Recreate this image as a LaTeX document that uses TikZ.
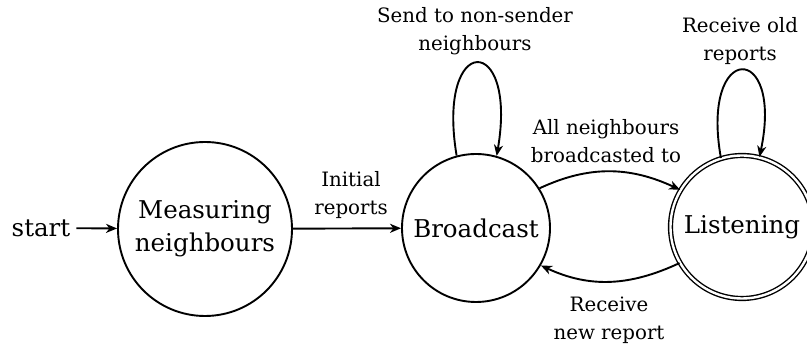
\documentclass[tikz,border=0pt]{standalone}
\usepackage{fontspec}
\setmainfont{DejaVu Serif}
\usetikzlibrary{arrows.meta}
\tikzset{
  state/.style={circle, draw, line width=1.9pt, align=center, inner sep=0pt,
    font=\fontsize{24.5}{33}\selectfont},
  accepting/.style={double, double distance=2.4pt, line width=1.4pt},
  trans/.style={line width=1.9pt, -{Stealth[length=11pt, width=9pt, inset=3.3pt]}},
  lab/.style={align=center, inner sep=0pt, font=\fontsize{19.8}{28}\selectfont}
}
\begin{document}
\begin{tikzpicture}[x=1pt, y=1pt]
\useasboundingbox (0,0) rectangle (807,347);
% states
\node[state, minimum size=174pt] (M) at (205,118) {Measuring\\neighbours};
\node[state, minimum size=148pt] (B) at (476,119) {Broadcast};
\node[state, accepting, minimum size=143pt] (L) at (742,120) {Listening};
\node[inner sep=0pt, outer sep=6pt, font=\fontsize{24.5}{30}\selectfont] (st) at (41,119) {start};
% transitions
\draw[trans] (st) -- (M);
\draw[trans] (M) -- (B);
\draw[trans] (B.105) .. controls (436,315) and (518,315) .. (B.74);
\draw[trans] (L.107) .. controls (700,306) and (784,306) .. (L.76);
\draw[trans] (B.32) to[out=25, in=155] (L.149);
\draw[trans] (L.210) to[out=205, in=335] (B.330);
% labels
\node[lab] (l1) at (351,152) {Initial\\reports};
\node[lab] (l2) at (475,316) {Send to non-sender\\neighbours};
\node[lab] (l3) at (740,306) {Receive old\\reports};
\node[lab] (l4) at (606,206) {All neighbours\\broadcasted to};
\node[lab] (l5) at (609,27) {Receive\\new report};
\end{tikzpicture}
\end{document}
